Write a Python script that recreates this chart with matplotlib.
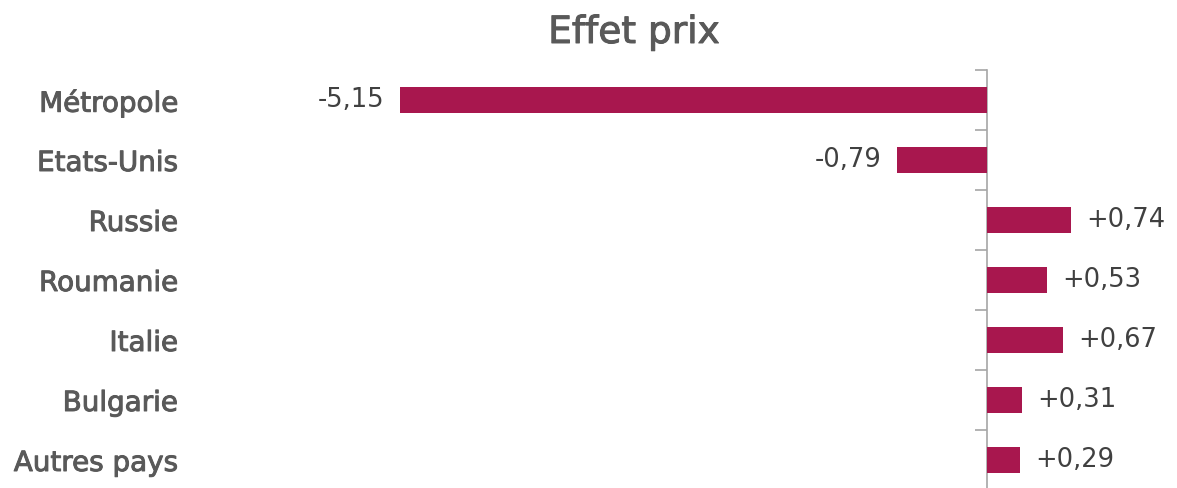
import matplotlib
matplotlib.use('Agg')
import matplotlib.pyplot as plt
import matplotlib.patheffects as pe

# données
pays = ['Métropole', 'Etats-Unis', 'Russie', 'Roumanie', 'Italie', 'Bulgarie', 'Autres pays']
effet = [-5.15, -0.79, 0.74, 0.53, 0.67, 0.31, 0.29]
etiquettes = ['-5,15', '-0,79', '+0,74', '+0,53', '+0,67', '+0,31', '+0,29']

BAR_C = '#a8174e'
TXT_C = '#595959'
VAL_C = '#404040'
AXE_C = '#a6a6a6'
FONT = ['DejaVu Sans']

W, H = 1177, 488
fig = plt.figure(figsize=(W / 100, H / 100), dpi=100)
fig.patch.set_facecolor('white')

# axes : 185 px -> 1177 px, 70 px -> 490 px
ax = fig.add_axes([185 / W, (H - 490) / H, (W - 185) / W, 420 / H])
XMIN, XMAX = -7.035, 1.667
ax.set_xlim(XMIN, XMAX)
ax.set_ylim(len(pays) - 0.5, -0.5)

y = list(range(len(pays)))
ax.barh(y, effet, height=0.44, color=BAR_C, zorder=3)

for s in ax.spines.values():
    s.set_visible(False)
ax.set_xticks([])
ax.set_yticks(y)
ax.set_yticklabels(pays, fontfamily=FONT, fontsize=20, color=TXT_C)
for t in ax.get_yticklabels():
    t.set_path_effects([pe.withStroke(linewidth=0.7, foreground=TXT_C)])
ax.tick_params(axis='y', length=0, pad=5)

# axe vertical à zéro avec graduations entre catégories
x0 = (0 - XMIN) / (XMAX - XMIN)
sec = ax.secondary_yaxis(x0)
sec.set_yticks([i - 0.5 for i in range(len(pays) + 1)])
sec.set_yticklabels([])
sec.spines['right'].set_visible(False)
sec.spines['left'].set_visible(True)
sec.spines['left'].set_color(AXE_C)
sec.spines['left'].set_linewidth(1.2)
sec.yaxis.set_ticks_position('left')
sec.tick_params(axis='y', length=9, width=1.2, color=AXE_C, direction='out')

for yi, v, lab in zip(y, effet, etiquettes):
    if v < 0:
        ax.annotate(lab, (v, yi), xytext=(-11, 0), textcoords='offset points',
                    ha='right', va='center', fontfamily=FONT, fontsize=18.5, color=VAL_C)
    else:
        ax.annotate(lab, (v, yi), xytext=(11, 0), textcoords='offset points',
                    ha='left', va='center', fontfamily=FONT, fontsize=18.5, color=VAL_C)

titre = fig.text(634 / W, 1 - 33 / H, 'Effet prix', ha='center', va='center',
                 fontfamily=FONT, fontsize=27, color=TXT_C)
titre.set_path_effects([pe.withStroke(linewidth=0.7, foreground=TXT_C)])

fig.savefig('out.png', dpi=100, facecolor='white')
